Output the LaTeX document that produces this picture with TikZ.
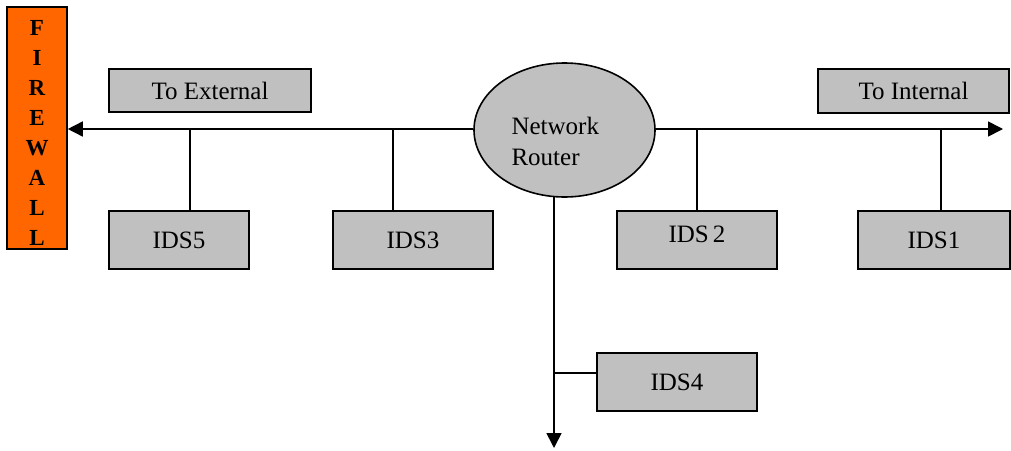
\documentclass[tikz,border=0pt]{standalone}
\usepackage{fontspec}
\setmainfont{Liberation Serif}
\usetikzlibrary{arrows.meta,shapes.geometric}
\definecolor{boxgray}{RGB}{192,192,192}
\definecolor{fireorange}{RGB}{255,102,0}
\tikzset{
  box/.style={draw=black, line width=1.6pt, fill=boxgray, inner sep=0pt, font=\fontsize{25}{28}\selectfont},
  wire/.style={draw=black, line width=1.6pt},
  tip/.style={-{Triangle[length=15pt,width=15pt]}}
}
\begin{document}
\begin{tikzpicture}[x=1pt,y=-1pt]
\useasboundingbox (0,0) rectangle (1011,450);
% firewall
\node[box, fill=fireorange, minimum width=60pt, minimum height=242pt] (fw) at (37,128) {};
\node[font=\bfseries\fontsize{23}{29.9}\selectfont, align=center, inner sep=0pt] (fwt) at (37,133)
  {F\\I\\R\\E\\W\\A\\L\\L};
% router
\node[draw=black, line width=1.6pt, fill=boxgray, ellipse, minimum width=181pt, minimum height=134pt, inner sep=0pt] (rt) at (564.5,130) {};
\node[font=\fontsize{25}{31}\selectfont, align=left, anchor=west] (rtxt) at (508,141) {Network\\Router};
% label boxes
\node[box, minimum width=202pt, minimum height=43pt] (ext) at (210,90.5) {To External};
\node[box, minimum width=191pt, minimum height=44pt] (int) at (913.5,91) {To Internal};
% IDS boxes
\node[box, minimum width=140pt, minimum height=58pt] (ids5) at (179,240) {IDS5};
\node[box, minimum width=160pt, minimum height=58pt] (ids3) at (413,240) {IDS3};
\node[box, minimum width=160pt, minimum height=58pt] (ids2) at (697,240) {};
\node[font=\fontsize{25}{28}\selectfont] (ids2t) at (697,234) {IDS\,2};
\node[box, minimum width=152pt, minimum height=58pt] (ids1) at (934,240) {IDS1};
\node[box, minimum width=160pt, minimum height=58pt] (ids4) at (677,382) {IDS4};
% coordinates
\coordinate (rtip) at (1003,129);
\coordinate (dtip) at (554,448);
\coordinate (j5) at (190,129);
\coordinate (j3) at (393,129);
\coordinate (j2) at (697,129);
\coordinate (j1) at (941,129);
\coordinate (j4) at (554,373);
% wires
\draw[wire, tip] (rt.west |- 0,129) -- (fw.east |- 0,129);
\draw[wire, tip] (rt.east |- 0,129) -- (rtip);
\draw[wire, tip] (554,196) -- (dtip);
\draw[wire] (j5) -- (j5 |- ids5.north);
\draw[wire] (j3) -- (j3 |- ids3.north);
\draw[wire] (j2) -- (j2 |- ids2.north);
\draw[wire] (j1) -- (j1 |- ids1.north);
\draw[wire] (j4) -- (ids4.west |- j4);
\end{tikzpicture}
\end{document}
